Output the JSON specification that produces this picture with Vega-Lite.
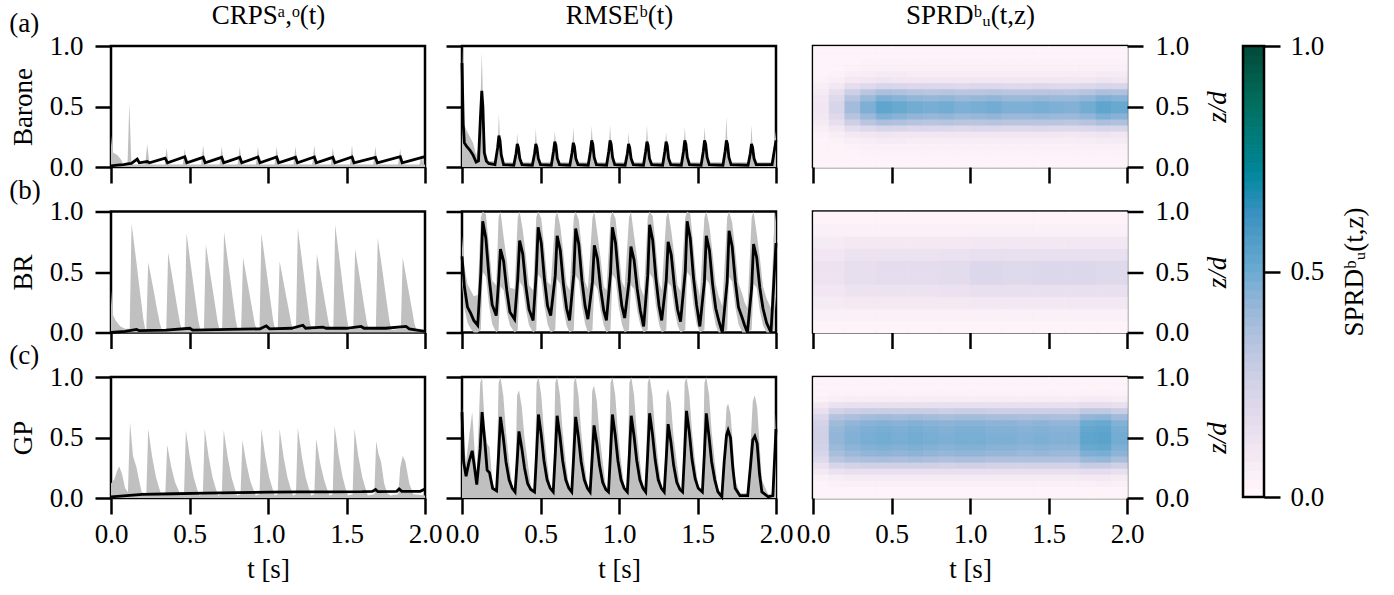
{
"$schema":"https://vega.github.io/schema/vega-lite/v6.json",
"padding":{"left":8,"top":0,"right":5,"bottom":5},
"background":"white",
"bounds":"flush",
"columns":4,
"spacing":{"row":44.5,"column":37},
"datasets":{
"A1":[{"t":0,"hi":0.26,"m":0.01},{"t":0.01,"hi":0.12},{"t":0.04,"hi":0.1,"m":0.015},{"t":0.065,"hi":0.06},{"t":0.08,"hi":0.015,"m":0.02},{"t":0.105,"hi":0.02,"m":0.025},{"t":0.117,"hi":0.53},{"t":0.13,"hi":0.02,"m":0.03},{"t":0.167,"m":0.065},{"t":0.18,"m":0.035},{"t":0.218,"hi":0.02},{"t":0.231,"hi":0.19,"m":0.045},{"t":0.245,"hi":0.02,"m":0.035},{"t":0.342,"hi":0.02},{"t":0.345,"m":0.073},{"t":0.354,"hi":0.16},{"t":0.36,"m":0.035},{"t":0.367,"hi":0.02},
{"t":0.457,"hi":0.02},{"t":0.47,"hi":0.15,"m":0.085},{"t":0.483,"hi":0.02,"m":0.035},
{"t":0.574,"hi":0.02},{"t":0.587,"hi":0.18,"m":0.08},{"t":0.6,"hi":0.02,"m":0.035},
{"t":0.692,"hi":0.02},{"t":0.705,"hi":0.17,"m":0.08},{"t":0.718,"hi":0.02,"m":0.035},
{"t":0.807,"hi":0.02},{"t":0.82,"hi":0.17,"m":0.08},{"t":0.833,"hi":0.02,"m":0.035},
{"t":0.923,"hi":0.02},{"t":0.936,"hi":0.17,"m":0.083},{"t":0.949,"hi":0.02,"m":0.035},
{"t":1.042,"hi":0.02},{"t":1.055,"hi":0.17,"m":0.083},{"t":1.068,"hi":0.02,"m":0.035},
{"t":1.162,"hi":0.02},{"t":1.175,"hi":0.17,"m":0.08},{"t":1.188,"hi":0.02,"m":0.035},
{"t":1.282,"hi":0.02},{"t":1.295,"hi":0.18,"m":0.083},{"t":1.308,"hi":0.02,"m":0.035},
{"t":1.4,"hi":0.02},{"t":1.413,"hi":0.16,"m":0.08},{"t":1.426,"hi":0.02,"m":0.035},
{"t":1.522,"hi":0.02},{"t":1.535,"hi":0.18,"m":0.083},{"t":1.548,"hi":0.02,"m":0.035},
{"t":1.671,"hi":0.02},{"t":1.684,"hi":0.17,"m":0.08},{"t":1.697,"hi":0.02,"m":0.035},
{"t":1.829,"hi":0.02},{"t":1.842,"hi":0.15,"m":0.085},{"t":1.855,"hi":0.02,"m":0.035},
{"t":1.965,"hi":0.02},{"t":1.978,"hi":0.1},{"t":1.99,"hi":0.02},{"t":2,"hi":0.02,"m":0.085}],
"A2":[{"t":0,"hi":1,"m":0.86},{"t":0.008,"hi":0.5,"m":0.35},{"t":0.015,"hi":0.35,"m":0.2},{"t":0.03,"hi":0.3,"m":0.17},{"t":0.05,"hi":0.25,"m":0.14},{"t":0.07,"hi":0.2,"m":0.1},{"t":0.09,"hi":0.1,"m":0.04},{"t":0.105,"hi":0.15,"m":0.05},{"t":0.117,"hi":0.5,"m":0.4},{"t":0.126,"hi":0.95,"m":0.63},{"t":0.133,"hi":0.6,"m":0.5},{"t":0.142,"hi":0.3,"m":0.12},{"t":0.155,"hi":0.1,"m":0.05},{"t":0.17,"hi":0.05,"m":0.03},
{"t":0.21,"hi":0.05,"m":0.02},{"t":0.227,"hi":0.17,"m":0.16},{"t":0.235,"hi":0.44,"m":0.26},{"t":0.242,"hi":0.22,"m":0.22},{"t":0.25,"hi":0.12,"m":0.1},{"t":0.265,"hi":0.04,"m":0.02},
{"t":0.33,"hi":0.04,"m":0.015},{"t":0.344,"hi":0.12,"m":0.11},{"t":0.352,"hi":0.28,"m":0.19},{"t":0.359,"hi":0.16,"m":0.16},{"t":0.368,"hi":0.08,"m":0.07},{"t":0.382,"hi":0.04,"m":0.02},
{"t":0.448,"hi":0.04,"m":0.015},{"t":0.462,"hi":0.12,"m":0.11},{"t":0.47,"hi":0.32,"m":0.19},{"t":0.477,"hi":0.16,"m":0.16},{"t":0.486,"hi":0.08,"m":0.07},{"t":0.5,"hi":0.04,"m":0.02},
{"t":0.569,"hi":0.04,"m":0.015},{"t":0.583,"hi":0.14,"m":0.13},{"t":0.591,"hi":0.3,"m":0.21},{"t":0.598,"hi":0.18,"m":0.18},{"t":0.607,"hi":0.08,"m":0.07},{"t":0.621,"hi":0.04,"m":0.02},
{"t":0.687,"hi":0.04,"m":0.015},{"t":0.701,"hi":0.13,"m":0.12},{"t":0.709,"hi":0.33,"m":0.2},{"t":0.716,"hi":0.17,"m":0.17},{"t":0.725,"hi":0.08,"m":0.07},{"t":0.739,"hi":0.04,"m":0.02},
{"t":0.804,"hi":0.04,"m":0.015},{"t":0.818,"hi":0.14,"m":0.13},{"t":0.826,"hi":0.34,"m":0.22},{"t":0.833,"hi":0.19,"m":0.19},{"t":0.842,"hi":0.09,"m":0.08},{"t":0.856,"hi":0.04,"m":0.02},
{"t":0.921,"hi":0.04,"m":0.015},{"t":0.935,"hi":0.14,"m":0.13},{"t":0.943,"hi":0.35,"m":0.22},{"t":0.95,"hi":0.19,"m":0.19},{"t":0.959,"hi":0.09,"m":0.08},{"t":0.973,"hi":0.04,"m":0.02},
{"t":1.039,"hi":0.04,"m":0.015},{"t":1.053,"hi":0.12,"m":0.11},{"t":1.061,"hi":0.29,"m":0.19},{"t":1.068,"hi":0.16,"m":0.16},{"t":1.077,"hi":0.08,"m":0.07},{"t":1.091,"hi":0.04,"m":0.02},
{"t":1.156,"hi":0.04,"m":0.015},{"t":1.17,"hi":0.14,"m":0.13},{"t":1.178,"hi":0.35,"m":0.21},{"t":1.185,"hi":0.18,"m":0.18},{"t":1.194,"hi":0.08,"m":0.07},{"t":1.208,"hi":0.04,"m":0.02},
{"t":1.278,"hi":0.04,"m":0.015},{"t":1.292,"hi":0.14,"m":0.13},{"t":1.3,"hi":0.29,"m":0.21},{"t":1.307,"hi":0.18,"m":0.18},{"t":1.316,"hi":0.08,"m":0.07},{"t":1.33,"hi":0.04,"m":0.02},
{"t":1.397,"hi":0.04,"m":0.015},{"t":1.411,"hi":0.14,"m":0.13},{"t":1.419,"hi":0.33,"m":0.22},{"t":1.426,"hi":0.19,"m":0.19},{"t":1.435,"hi":0.09,"m":0.08},{"t":1.449,"hi":0.04,"m":0.02},
{"t":1.523,"hi":0.04,"m":0.015},{"t":1.537,"hi":0.14,"m":0.13},{"t":1.545,"hi":0.33,"m":0.22},{"t":1.552,"hi":0.19,"m":0.19},{"t":1.561,"hi":0.09,"m":0.08},{"t":1.575,"hi":0.04,"m":0.02},
{"t":1.662,"hi":0.04,"m":0.015},{"t":1.676,"hi":0.14,"m":0.13},{"t":1.684,"hi":0.42,"m":0.22},{"t":1.691,"hi":0.19,"m":0.19},{"t":1.7,"hi":0.09,"m":0.08},{"t":1.714,"hi":0.04,"m":0.02},
{"t":1.822,"hi":0.04,"m":0.015},{"t":1.836,"hi":0.12,"m":0.11},{"t":1.844,"hi":0.35,"m":0.19},{"t":1.851,"hi":0.16,"m":0.16},{"t":1.86,"hi":0.08,"m":0.07},{"t":1.874,"hi":0.04,"m":0.02},
{"t":1.975,"hi":0.04,"m":0.02},{"t":2,"hi":0.3,"m":0.22}],
"B1":[{"t":0,"hi":0.35,"m":0},{"t":0.01,"hi":0.15},{"t":0.03,"hi":0.1},{"t":0.06,"hi":0.05},{"t":0.09,"hi":0.03,"m":0.01},{"t":0.119,"hi":0.03},
{"t":0.131,"hi":0.9},{"t":0.161,"hi":0.59},{"t":0.186,"hi":0.32},{"t":0.206,"hi":0.11},{"t":0.219,"hi":0.02},
{"t":0.225,"hi":0.03},{"t":0.237,"hi":0.58},{"t":0.267,"hi":0.38},{"t":0.292,"hi":0.2},{"t":0.312,"hi":0.07},{"t":0.325,"hi":0.02},
{"t":0.352,"hi":0.03},{"t":0.364,"hi":0.66},{"t":0.394,"hi":0.43},{"t":0.419,"hi":0.23},{"t":0.439,"hi":0.08},{"t":0.452,"hi":0.02},
{"t":0.469,"hi":0.03},{"t":0.481,"hi":0.82},{"t":0.511,"hi":0.53},{"t":0.536,"hi":0.29},{"t":0.556,"hi":0.1},{"t":0.569,"hi":0.02},
{"t":0.592,"hi":0.03},{"t":0.604,"hi":0.73},{"t":0.634,"hi":0.47},{"t":0.659,"hi":0.26},{"t":0.679,"hi":0.09},{"t":0.692,"hi":0.02},
{"t":0.708,"hi":0.03},{"t":0.72,"hi":0.83},{"t":0.75,"hi":0.54},{"t":0.775,"hi":0.29},{"t":0.795,"hi":0.1},{"t":0.808,"hi":0.02},
{"t":0.829,"hi":0.03},{"t":0.841,"hi":0.62},{"t":0.871,"hi":0.4},{"t":0.896,"hi":0.22},{"t":0.916,"hi":0.07},{"t":0.929,"hi":0.02},
{"t":0.946,"hi":0.03},{"t":0.958,"hi":0.82},{"t":0.988,"hi":0.53},{"t":1.013,"hi":0.29},{"t":1.033,"hi":0.1},{"t":1.046,"hi":0.02},
{"t":1.062,"hi":0.03},{"t":1.074,"hi":0.59},{"t":1.104,"hi":0.38},{"t":1.129,"hi":0.21},{"t":1.149,"hi":0.07},{"t":1.162,"hi":0.02},
{"t":1.178,"hi":0.03},{"t":1.19,"hi":0.86},{"t":1.22,"hi":0.56},{"t":1.245,"hi":0.3},{"t":1.265,"hi":0.1},{"t":1.278,"hi":0.02},
{"t":1.299,"hi":0.03},{"t":1.311,"hi":0.65},{"t":1.341,"hi":0.42},{"t":1.366,"hi":0.23},{"t":1.386,"hi":0.08},{"t":1.399,"hi":0.02},
{"t":1.416,"hi":0.03},{"t":1.428,"hi":0.89},{"t":1.458,"hi":0.58},{"t":1.483,"hi":0.31},{"t":1.503,"hi":0.11},{"t":1.516,"hi":0.02},
{"t":1.543,"hi":0.03},{"t":1.555,"hi":0.69},{"t":1.585,"hi":0.45},{"t":1.61,"hi":0.24},{"t":1.63,"hi":0.08},{"t":1.643,"hi":0.02},
{"t":1.687,"hi":0.03},{"t":1.699,"hi":0.78},{"t":1.729,"hi":0.51},{"t":1.754,"hi":0.27},{"t":1.774,"hi":0.09},{"t":1.787,"hi":0.02},
{"t":1.846,"hi":0.03},{"t":1.858,"hi":0.62},{"t":1.888,"hi":0.4},{"t":1.913,"hi":0.22},{"t":1.933,"hi":0.07},{"t":1.946,"hi":0.02},
{"t":2,"hi":0.02,"m":0.01},
{"t":0.163,"m":0.025},{"t":0.18,"m":0.015},{"t":0.35,"m":0.02},{"t":0.502,"m":0.035},{"t":0.52,"m":0.02},{"t":0.75,"m":0.025},{"t":0.95,"m":0.03},{"t":0.989,"m":0.055},{"t":1.01,"m":0.03},{"t":1.15,"m":0.035},{"t":1.222,"m":0.06},{"t":1.24,"m":0.035},{"t":1.35,"m":0.045},{"t":1.37,"m":0.035},{"t":1.5,"m":0.035},{"t":1.593,"m":0.05},{"t":1.612,"m":0.035},{"t":1.75,"m":0.035},{"t":1.879,"m":0.05},{"t":1.9,"m":0.03}],
"B2":[{"t":0,"lo":0.4,"hi":0.8,"m":0.63},{"t":0.015,"lo":0.2,"hi":0.55,"m":0.38},{"t":0.035,"lo":0.08,"hi":0.4,"m":0.21},{"t":0.055,"lo":0.03,"hi":0.35,"m":0.16},{"t":0.075,"lo":0,"hi":0.3,"m":0.1},{"t":0.1,"lo":0,"hi":0.31,"m":0.06},
{"t":0.12,"lo":0.02,"hi":0.95,"m":0.49},{"t":0.132,"lo":0.5,"hi":1,"m":0.92},{"t":0.152,"lo":0.46,"hi":0.98,"m":0.78},{"t":0.172,"lo":0.23,"hi":0.71,"m":0.46},{"t":0.192,"lo":0.07,"hi":0.43,"m":0.23},{"t":0.218,"lo":0,"hi":0.39,"m":0.14},
{"t":0.233,"lo":0.02,"hi":0.95,"m":0.42},{"t":0.245,"lo":0.38,"hi":1,"m":0.69},{"t":0.265,"lo":0.35,"hi":0.79,"m":0.59},{"t":0.285,"lo":0.17,"hi":0.6,"m":0.35},{"t":0.305,"lo":0.06,"hi":0.37,"m":0.17},{"t":0.335,"lo":0,"hi":0.36,"m":0.11},
{"t":0.355,"lo":0.02,"hi":0.95,"m":0.44},{"t":0.367,"lo":0.42,"hi":1,"m":0.76},{"t":0.387,"lo":0.38,"hi":0.85,"m":0.65},{"t":0.407,"lo":0.19,"hi":0.63,"m":0.38},{"t":0.427,"lo":0.06,"hi":0.39,"m":0.19},{"t":0.453,"lo":0,"hi":0.35,"m":0.1},
{"t":0.473,"lo":0.02,"hi":0.95,"m":0.49},{"t":0.485,"lo":0.48,"hi":1,"m":0.87},{"t":0.505,"lo":0.44,"hi":0.94,"m":0.74},{"t":0.525,"lo":0.22,"hi":0.69,"m":0.44},{"t":0.545,"lo":0.07,"hi":0.42,"m":0.22},{"t":0.565,"lo":0,"hi":0.39,"m":0.14},
{"t":0.594,"lo":0.02,"hi":0.95,"m":0.47},{"t":0.606,"lo":0.44,"hi":1,"m":0.8},{"t":0.626,"lo":0.4,"hi":0.88,"m":0.68},{"t":0.646,"lo":0.2,"hi":0.65,"m":0.4},{"t":0.666,"lo":0.06,"hi":0.4,"m":0.2},{"t":0.685,"lo":0,"hi":0.35,"m":0.1},
{"t":0.712,"lo":0.02,"hi":0.95,"m":0.48},{"t":0.724,"lo":0.47,"hi":1,"m":0.86},{"t":0.744,"lo":0.43,"hi":0.93,"m":0.73},{"t":0.764,"lo":0.22,"hi":0.68,"m":0.43},{"t":0.784,"lo":0.07,"hi":0.42,"m":0.22},{"t":0.802,"lo":0,"hi":0.36,"m":0.11},
{"t":0.831,"lo":0.02,"hi":0.95,"m":0.42},{"t":0.843,"lo":0.4,"hi":1,"m":0.72},{"t":0.863,"lo":0.36,"hi":0.81,"m":0.61},{"t":0.883,"lo":0.18,"hi":0.61,"m":0.36},{"t":0.903,"lo":0.06,"hi":0.38,"m":0.18},{"t":0.92,"lo":0,"hi":0.35,"m":0.1},
{"t":0.946,"lo":0.02,"hi":0.95,"m":0.49},{"t":0.958,"lo":0.48,"hi":1,"m":0.87},{"t":0.978,"lo":0.44,"hi":0.94,"m":0.74},{"t":0.998,"lo":0.22,"hi":0.69,"m":0.44},{"t":1.018,"lo":0.07,"hi":0.42,"m":0.22},{"t":1.036,"lo":0,"hi":0.37,"m":0.12},
{"t":1.064,"lo":0.02,"hi":0.95,"m":0.42},{"t":1.076,"lo":0.39,"hi":1,"m":0.71},{"t":1.096,"lo":0.36,"hi":0.8,"m":0.6},{"t":1.116,"lo":0.18,"hi":0.61,"m":0.36},{"t":1.136,"lo":0.06,"hi":0.38,"m":0.18},{"t":1.157,"lo":0,"hi":0.3,"m":0.05},
{"t":1.183,"lo":0.02,"hi":0.95,"m":0.47},{"t":1.195,"lo":0.49,"hi":1,"m":0.89},{"t":1.215,"lo":0.45,"hi":0.96,"m":0.76},{"t":1.235,"lo":0.22,"hi":0.7,"m":0.45},{"t":1.255,"lo":0.07,"hi":0.42,"m":0.22},{"t":1.272,"lo":0,"hi":0.35,"m":0.1},
{"t":1.301,"lo":0.02,"hi":0.95,"m":0.43},{"t":1.313,"lo":0.41,"hi":1,"m":0.75},{"t":1.333,"lo":0.38,"hi":0.84,"m":0.64},{"t":1.353,"lo":0.19,"hi":0.63,"m":0.38},{"t":1.373,"lo":0.06,"hi":0.39,"m":0.19},{"t":1.392,"lo":0,"hi":0.34,"m":0.09},
{"t":1.422,"lo":0.02,"hi":0.95,"m":0.5},{"t":1.434,"lo":0.5,"hi":1,"m":0.92},{"t":1.454,"lo":0.46,"hi":0.98,"m":0.78},{"t":1.474,"lo":0.23,"hi":0.71,"m":0.46},{"t":1.494,"lo":0.07,"hi":0.43,"m":0.23},{"t":1.515,"lo":0,"hi":0.3,"m":0.05},
{"t":1.544,"lo":0.02,"hi":0.95,"m":0.42},{"t":1.556,"lo":0.44,"hi":1,"m":0.8},{"t":1.576,"lo":0.4,"hi":0.88,"m":0.68},{"t":1.596,"lo":0.2,"hi":0.65,"m":0.4},{"t":1.616,"lo":0.06,"hi":0.4,"m":0.2},{"t":1.635,"lo":0,"hi":0.3,"m":0.1},{"t":1.658,"lo":0,"hi":0.22,"m":0},
{"t":1.689,"lo":0.02,"hi":0.95,"m":0.42},{"t":1.701,"lo":0.46,"hi":1,"m":0.84},{"t":1.721,"lo":0.42,"hi":0.91,"m":0.71},{"t":1.741,"lo":0.21,"hi":0.67,"m":0.42},{"t":1.761,"lo":0.07,"hi":0.41,"m":0.21},{"t":1.785,"lo":0,"hi":0.32,"m":0.12},{"t":1.8,"lo":0,"hi":0.25,"m":0.06},{"t":1.818,"lo":0,"hi":0.2,"m":0},
{"t":1.845,"lo":0.02,"hi":0.95,"m":0.37},{"t":1.857,"lo":0.4,"hi":1,"m":0.73},{"t":1.877,"lo":0.37,"hi":0.82,"m":0.62},{"t":1.897,"lo":0.18,"hi":0.62,"m":0.37},{"t":1.917,"lo":0.06,"hi":0.38,"m":0.2},{"t":1.94,"lo":0,"hi":0.28,"m":0.08},{"t":1.968,"lo":0,"hi":0.2,"m":0},
{"t":1.985,"lo":0.02,"hi":0.8,"m":0.39},{"t":2,"lo":0.3,"hi":1,"m":0.74}],
"C1":[{"t":0,"hi":0.12,"m":0.01},{"t":0.02,"hi":0.15},{"t":0.04,"hi":0.23},{"t":0.053,"hi":0.26},{"t":0.07,"hi":0.2},{"t":0.09,"hi":0.08},{"t":0.1,"m":0.02},{"t":0.108,"hi":0.05},{"t":0.121,"hi":0.63},{"t":0.14,"hi":0.35},{"t":0.163,"hi":0.25},{"t":0.175,"hi":0.17},{"t":0.195,"hi":0.05},{"t":0.2,"m":0.03},{"t":0.225,"hi":0.03},
{"t":0.237,"hi":0.57},{"t":0.262,"hi":0.34},{"t":0.287,"hi":0.17},{"t":0.307,"hi":0.08},{"t":0.322,"hi":0.02},
{"t":0.346,"hi":0.03},{"t":0.358,"hi":0.44},{"t":0.383,"hi":0.26},{"t":0.408,"hi":0.13},{"t":0.428,"hi":0.07},{"t":0.443,"hi":0.02},
{"t":0.465,"hi":0.03},{"t":0.477,"hi":0.56},{"t":0.502,"hi":0.34},{"t":0.527,"hi":0.17},{"t":0.547,"hi":0.08},{"t":0.562,"hi":0.02},
{"t":0.585,"hi":0.03},{"t":0.597,"hi":0.57},{"t":0.622,"hi":0.34},{"t":0.647,"hi":0.17},{"t":0.667,"hi":0.08},{"t":0.682,"hi":0.02},
{"t":0.706,"hi":0.03},{"t":0.718,"hi":0.56},{"t":0.743,"hi":0.34},{"t":0.768,"hi":0.17},{"t":0.788,"hi":0.08},{"t":0.803,"hi":0.02},
{"t":0.825,"hi":0.03},{"t":0.837,"hi":0.48},{"t":0.862,"hi":0.29},{"t":0.887,"hi":0.14},{"t":0.907,"hi":0.07},{"t":0.922,"hi":0.02},
{"t":0.946,"hi":0.03},{"t":0.958,"hi":0.57},{"t":0.983,"hi":0.34},{"t":1.008,"hi":0.17},{"t":1.028,"hi":0.08},{"t":1.043,"hi":0.02},
{"t":1.062,"hi":0.03},{"t":1.074,"hi":0.57},{"t":1.099,"hi":0.34},{"t":1.124,"hi":0.17},{"t":1.144,"hi":0.08},{"t":1.159,"hi":0.02},
{"t":1.178,"hi":0.03},{"t":1.19,"hi":0.58},{"t":1.215,"hi":0.35},{"t":1.24,"hi":0.17},{"t":1.26,"hi":0.08},{"t":1.275,"hi":0.02},
{"t":1.295,"hi":0.03},{"t":1.307,"hi":0.49},{"t":1.332,"hi":0.29},{"t":1.357,"hi":0.15},{"t":1.377,"hi":0.07},{"t":1.392,"hi":0.02},
{"t":1.412,"hi":0.03},{"t":1.424,"hi":0.6},{"t":1.449,"hi":0.36},{"t":1.474,"hi":0.18},{"t":1.494,"hi":0.08},{"t":1.509,"hi":0.02},
{"t":1.539,"hi":0.03},{"t":1.551,"hi":0.57},{"t":1.576,"hi":0.34},{"t":1.601,"hi":0.17},{"t":1.621,"hi":0.08},{"t":1.636,"hi":0.02},
{"t":1.677,"hi":0.03},{"t":1.689,"hi":0.47},{"t":1.705,"hi":0.36},{"t":1.72,"hi":0.3},{"t":1.74,"hi":0.12},{"t":1.76,"hi":0.04},{"t":1.78,"hi":0.02},
{"t":1.83,"hi":0.03},{"t":1.842,"hi":0.25},{"t":1.858,"hi":0.35},{"t":1.875,"hi":0.3},{"t":1.9,"hi":0.12},{"t":1.925,"hi":0.03},{"t":2,"hi":0.02,"m":0.075},
{"t":0.4,"m":0.035},{"t":0.6,"m":0.04},{"t":0.8,"m":0.045},{"t":1,"m":0.048},{"t":1.2,"m":0.05},{"t":1.4,"m":0.05},{"t":1.6,"m":0.052},{"t":1.665,"m":0.055},{"t":1.685,"m":0.07},{"t":1.7,"m":0.052},{"t":1.82,"m":0.055},{"t":1.835,"m":0.075},{"t":1.852,"m":0.055},{"t":1.97,"m":0.055}],
"C2":[{"t":0,"hi":0.75,"m":0.71},{"t":0.01,"hi":0.45,"m":0.3},{"t":0.026,"hi":0.3,"m":0.18},{"t":0.045,"hi":0.5,"m":0.3},{"t":0.065,"hi":0.71,"m":0.39},{"t":0.08,"hi":0.4,"m":0.25},{"t":0.094,"hi":0.2,"m":0.11},{"t":0.116,"hi":0.95,"m":0.41},{"t":0.128,"hi":1,"m":0.71},{"t":0.145,"hi":0.6,"m":0.47},{"t":0.16,"hi":0.45,"m":0.23},{"t":0.175,"hi":0.42,"m":0.21},{"t":0.195,"hi":0.12,"m":0.08},{"t":0.22,"hi":0.06,"m":0.06},
{"t":0.233,"hi":0.95,"m":0.36},{"t":0.245,"hi":1,"m":0.67},{"t":0.263,"hi":0.85,"m":0.5},{"t":0.28,"hi":0.55,"m":0.3},{"t":0.3,"hi":0.3,"m":0.15},{"t":0.32,"hi":0.1,"m":0.08},{"t":0.338,"hi":0.06,"m":0.05},
{"t":0.351,"hi":0.85,"m":0.3},{"t":0.363,"hi":0.89,"m":0.55},{"t":0.381,"hi":0.75,"m":0.41},{"t":0.398,"hi":0.5,"m":0.25},{"t":0.418,"hi":0.3,"m":0.12},{"t":0.438,"hi":0.1,"m":0.07},{"t":0.462,"hi":0.06,"m":0.05},
{"t":0.475,"hi":0.95,"m":0.37},{"t":0.487,"hi":1,"m":0.69},{"t":0.505,"hi":0.85,"m":0.52},{"t":0.522,"hi":0.55,"m":0.31},{"t":0.542,"hi":0.3,"m":0.15},{"t":0.562,"hi":0.1,"m":0.08},{"t":0.581,"hi":0.06,"m":0.05},
{"t":0.594,"hi":0.95,"m":0.36},{"t":0.606,"hi":1,"m":0.68},{"t":0.624,"hi":0.85,"m":0.51},{"t":0.641,"hi":0.55,"m":0.31},{"t":0.661,"hi":0.3,"m":0.15},{"t":0.681,"hi":0.1,"m":0.08},{"t":0.699,"hi":0.06,"m":0.05},
{"t":0.712,"hi":0.95,"m":0.36},{"t":0.724,"hi":1,"m":0.67},{"t":0.742,"hi":0.85,"m":0.5},{"t":0.759,"hi":0.55,"m":0.3},{"t":0.779,"hi":0.3,"m":0.15},{"t":0.799,"hi":0.1,"m":0.08},{"t":0.816,"hi":0.06,"m":0.05},
{"t":0.829,"hi":0.88,"m":0.33},{"t":0.841,"hi":0.93,"m":0.6},{"t":0.859,"hi":0.8,"m":0.45},{"t":0.876,"hi":0.52,"m":0.27},{"t":0.896,"hi":0.3,"m":0.13},{"t":0.916,"hi":0.1,"m":0.07},{"t":0.933,"hi":0.06,"m":0.05},
{"t":0.946,"hi":0.95,"m":0.37},{"t":0.958,"hi":1,"m":0.69},{"t":0.976,"hi":0.85,"m":0.52},{"t":0.993,"hi":0.55,"m":0.31},{"t":1.013,"hi":0.3,"m":0.15},{"t":1.033,"hi":0.1,"m":0.08},{"t":1.053,"hi":0.06,"m":0.05},
{"t":1.066,"hi":0.95,"m":0.36},{"t":1.078,"hi":1,"m":0.68},{"t":1.096,"hi":0.85,"m":0.51},{"t":1.113,"hi":0.55,"m":0.31},{"t":1.133,"hi":0.3,"m":0.15},{"t":1.153,"hi":0.1,"m":0.08},{"t":1.17,"hi":0.06,"m":0.05},
{"t":1.183,"hi":0.95,"m":0.37},{"t":1.195,"hi":1,"m":0.7},{"t":1.213,"hi":0.85,"m":0.53},{"t":1.23,"hi":0.55,"m":0.32},{"t":1.25,"hi":0.3,"m":0.15},{"t":1.27,"hi":0.1,"m":0.08},{"t":1.288,"hi":0.06,"m":0.05},
{"t":1.301,"hi":0.85,"m":0.33},{"t":1.313,"hi":0.9,"m":0.61},{"t":1.331,"hi":0.78,"m":0.46},{"t":1.348,"hi":0.5,"m":0.27},{"t":1.368,"hi":0.3,"m":0.13},{"t":1.388,"hi":0.1,"m":0.07},{"t":1.405,"hi":0.06,"m":0.05},
{"t":1.418,"hi":0.95,"m":0.38},{"t":1.43,"hi":1,"m":0.72},{"t":1.448,"hi":0.85,"m":0.54},{"t":1.465,"hi":0.55,"m":0.32},{"t":1.485,"hi":0.3,"m":0.16},{"t":1.505,"hi":0.1,"m":0.08},{"t":1.531,"hi":0.06,"m":0.05},
{"t":1.544,"hi":0.95,"m":0.37},{"t":1.556,"hi":1,"m":0.7},{"t":1.574,"hi":0.85,"m":0.5},{"t":1.59,"hi":0.55,"m":0.3},{"t":1.61,"hi":0.3,"m":0.15},{"t":1.63,"hi":0.08,"m":0.05},{"t":1.655,"hi":0.03,"m":0.01},
{"t":1.67,"hi":0.4,"m":0.3},{"t":1.685,"hi":0.75,"m":0.52},{"t":1.695,"hi":0.78,"m":0.56},{"t":1.71,"hi":0.7,"m":0.5},{"t":1.725,"hi":0.45,"m":0.25},{"t":1.74,"hi":0.15,"m":0.08},{"t":1.77,"hi":0.04,"m":0.02},{"t":1.82,"hi":0.04,"m":0.02},
{"t":1.84,"hi":0.5,"m":0.3},{"t":1.852,"hi":0.8,"m":0.48},{"t":1.865,"hi":0.85,"m":0.51},{"t":1.88,"hi":0.75,"m":0.45},{"t":1.895,"hi":0.45,"m":0.2},{"t":1.91,"hi":0.15,"m":0.05},{"t":1.95,"hi":0.03,"m":0.01},{"t":1.98,"hi":0.04,"m":0.02},{"t":2,"hi":0.7,"m":0.57}],
"H1":[
{"t":0.05,"z":0.025,"v":0.02},{"t":0.05,"z":0.075,"v":0.02},{"t":0.05,"z":0.125,"v":0.02},{"t":0.05,"z":0.175,"v":0.02},{"t":0.05,"z":0.225,"v":0.02},{"t":0.05,"z":0.275,"v":0.03},{"t":0.05,"z":0.325,"v":0.05},{"t":0.05,"z":0.375,"v":0.07},{"t":0.05,"z":0.425,"v":0.09},{"t":0.05,"z":0.475,"v":0.1},{"t":0.05,"z":0.525,"v":0.1},{"t":0.05,"z":0.575,"v":0.09},{"t":0.05,"z":0.625,"v":0.07},{"t":0.05,"z":0.675,"v":0.05},{"t":0.05,"z":0.725,"v":0.03},{"t":0.05,"z":0.775,"v":0.02},{"t":0.05,"z":0.825,"v":0.02},{"t":0.05,"z":0.875,"v":0.02},{"t":0.05,"z":0.925,"v":0.02},{"t":0.05,"z":0.975,"v":0.02},
{"t":0.15,"z":0.025,"v":0.02},{"t":0.15,"z":0.075,"v":0.02},{"t":0.15,"z":0.125,"v":0.02},{"t":0.15,"z":0.175,"v":0.02},{"t":0.15,"z":0.225,"v":0.03},{"t":0.15,"z":0.275,"v":0.05},{"t":0.15,"z":0.325,"v":0.09},{"t":0.15,"z":0.375,"v":0.15},{"t":0.15,"z":0.425,"v":0.19},{"t":0.15,"z":0.475,"v":0.22},{"t":0.15,"z":0.525,"v":0.22},{"t":0.15,"z":0.575,"v":0.19},{"t":0.15,"z":0.625,"v":0.15},{"t":0.15,"z":0.675,"v":0.09},{"t":0.15,"z":0.725,"v":0.05},{"t":0.15,"z":0.775,"v":0.03},{"t":0.15,"z":0.825,"v":0.02},{"t":0.15,"z":0.875,"v":0.02},{"t":0.15,"z":0.925,"v":0.02},{"t":0.15,"z":0.975,"v":0.02},
{"t":0.25,"z":0.025,"v":0.02},{"t":0.25,"z":0.075,"v":0.02},{"t":0.25,"z":0.125,"v":0.02},{"t":0.25,"z":0.175,"v":0.03},{"t":0.25,"z":0.225,"v":0.05},{"t":0.25,"z":0.275,"v":0.08},{"t":0.25,"z":0.325,"v":0.16},{"t":0.25,"z":0.375,"v":0.26},{"t":0.25,"z":0.425,"v":0.33},{"t":0.25,"z":0.475,"v":0.38},{"t":0.25,"z":0.525,"v":0.38},{"t":0.25,"z":0.575,"v":0.33},{"t":0.25,"z":0.625,"v":0.26},{"t":0.25,"z":0.675,"v":0.16},{"t":0.25,"z":0.725,"v":0.08},{"t":0.25,"z":0.775,"v":0.05},{"t":0.25,"z":0.825,"v":0.03},{"t":0.25,"z":0.875,"v":0.02},{"t":0.25,"z":0.925,"v":0.02},{"t":0.25,"z":0.975,"v":0.02},
{"t":0.35,"z":0.025,"v":0.02},{"t":0.35,"z":0.075,"v":0.02},{"t":0.35,"z":0.125,"v":0.03},{"t":0.35,"z":0.175,"v":0.04},{"t":0.35,"z":0.225,"v":0.06},{"t":0.35,"z":0.275,"v":0.1},{"t":0.35,"z":0.325,"v":0.19},{"t":0.35,"z":0.375,"v":0.32},{"t":0.35,"z":0.425,"v":0.4},{"t":0.35,"z":0.475,"v":0.46},{"t":0.35,"z":0.525,"v":0.46},{"t":0.35,"z":0.575,"v":0.4},{"t":0.35,"z":0.625,"v":0.32},{"t":0.35,"z":0.675,"v":0.19},{"t":0.35,"z":0.725,"v":0.1},{"t":0.35,"z":0.775,"v":0.06},{"t":0.35,"z":0.825,"v":0.04},{"t":0.35,"z":0.875,"v":0.03},{"t":0.35,"z":0.925,"v":0.02},{"t":0.35,"z":0.975,"v":0.02},
{"t":0.45,"z":0.025,"v":0.02},{"t":0.45,"z":0.075,"v":0.02},{"t":0.45,"z":0.125,"v":0.03},{"t":0.45,"z":0.175,"v":0.04},{"t":0.45,"z":0.225,"v":0.07},{"t":0.45,"z":0.275,"v":0.11},{"t":0.45,"z":0.325,"v":0.22},{"t":0.45,"z":0.375,"v":0.36},{"t":0.45,"z":0.425,"v":0.46},{"t":0.45,"z":0.475,"v":0.52},{"t":0.45,"z":0.525,"v":0.52},{"t":0.45,"z":0.575,"v":0.46},{"t":0.45,"z":0.625,"v":0.36},{"t":0.45,"z":0.675,"v":0.22},{"t":0.45,"z":0.725,"v":0.11},{"t":0.45,"z":0.775,"v":0.07},{"t":0.45,"z":0.825,"v":0.04},{"t":0.45,"z":0.875,"v":0.03},{"t":0.45,"z":0.925,"v":0.02},{"t":0.45,"z":0.975,"v":0.02},
{"t":0.55,"z":0.025,"v":0.02},{"t":0.55,"z":0.075,"v":0.02},{"t":0.55,"z":0.125,"v":0.03},{"t":0.55,"z":0.175,"v":0.04},{"t":0.55,"z":0.225,"v":0.07},{"t":0.55,"z":0.275,"v":0.1},{"t":0.55,"z":0.325,"v":0.21},{"t":0.55,"z":0.375,"v":0.35},{"t":0.55,"z":0.425,"v":0.44},{"t":0.55,"z":0.475,"v":0.5},{"t":0.55,"z":0.525,"v":0.5},{"t":0.55,"z":0.575,"v":0.44},{"t":0.55,"z":0.625,"v":0.35},{"t":0.55,"z":0.675,"v":0.21},{"t":0.55,"z":0.725,"v":0.1},{"t":0.55,"z":0.775,"v":0.07},{"t":0.55,"z":0.825,"v":0.04},{"t":0.55,"z":0.875,"v":0.03},{"t":0.55,"z":0.925,"v":0.02},{"t":0.55,"z":0.975,"v":0.02},
{"t":0.65,"z":0.025,"v":0.02},{"t":0.65,"z":0.075,"v":0.02},{"t":0.65,"z":0.125,"v":0.03},{"t":0.65,"z":0.175,"v":0.04},{"t":0.65,"z":0.225,"v":0.06},{"t":0.65,"z":0.275,"v":0.1},{"t":0.65,"z":0.325,"v":0.2},{"t":0.65,"z":0.375,"v":0.33},{"t":0.65,"z":0.425,"v":0.42},{"t":0.65,"z":0.475,"v":0.48},{"t":0.65,"z":0.525,"v":0.48},{"t":0.65,"z":0.575,"v":0.42},{"t":0.65,"z":0.625,"v":0.33},{"t":0.65,"z":0.675,"v":0.2},{"t":0.65,"z":0.725,"v":0.1},{"t":0.65,"z":0.775,"v":0.06},{"t":0.65,"z":0.825,"v":0.04},{"t":0.65,"z":0.875,"v":0.03},{"t":0.65,"z":0.925,"v":0.02},{"t":0.65,"z":0.975,"v":0.02},
{"t":0.75,"z":0.025,"v":0.02},{"t":0.75,"z":0.075,"v":0.02},{"t":0.75,"z":0.125,"v":0.03},{"t":0.75,"z":0.175,"v":0.04},{"t":0.75,"z":0.225,"v":0.06},{"t":0.75,"z":0.275,"v":0.1},{"t":0.75,"z":0.325,"v":0.2},{"t":0.75,"z":0.375,"v":0.32},{"t":0.75,"z":0.425,"v":0.41},{"t":0.75,"z":0.475,"v":0.47},{"t":0.75,"z":0.525,"v":0.47},{"t":0.75,"z":0.575,"v":0.41},{"t":0.75,"z":0.625,"v":0.32},{"t":0.75,"z":0.675,"v":0.2},{"t":0.75,"z":0.725,"v":0.1},{"t":0.75,"z":0.775,"v":0.06},{"t":0.75,"z":0.825,"v":0.04},{"t":0.75,"z":0.875,"v":0.03},{"t":0.75,"z":0.925,"v":0.02},{"t":0.75,"z":0.975,"v":0.02},
{"t":0.85,"z":0.025,"v":0.02},{"t":0.85,"z":0.075,"v":0.02},{"t":0.85,"z":0.125,"v":0.03},{"t":0.85,"z":0.175,"v":0.04},{"t":0.85,"z":0.225,"v":0.06},{"t":0.85,"z":0.275,"v":0.1},{"t":0.85,"z":0.325,"v":0.2},{"t":0.85,"z":0.375,"v":0.33},{"t":0.85,"z":0.425,"v":0.42},{"t":0.85,"z":0.475,"v":0.48},{"t":0.85,"z":0.525,"v":0.48},{"t":0.85,"z":0.575,"v":0.42},{"t":0.85,"z":0.625,"v":0.33},{"t":0.85,"z":0.675,"v":0.2},{"t":0.85,"z":0.725,"v":0.1},{"t":0.85,"z":0.775,"v":0.06},{"t":0.85,"z":0.825,"v":0.04},{"t":0.85,"z":0.875,"v":0.03},{"t":0.85,"z":0.925,"v":0.02},{"t":0.85,"z":0.975,"v":0.02},
{"t":0.95,"z":0.025,"v":0.02},{"t":0.95,"z":0.075,"v":0.02},{"t":0.95,"z":0.125,"v":0.03},{"t":0.95,"z":0.175,"v":0.04},{"t":0.95,"z":0.225,"v":0.06},{"t":0.95,"z":0.275,"v":0.1},{"t":0.95,"z":0.325,"v":0.19},{"t":0.95,"z":0.375,"v":0.32},{"t":0.95,"z":0.425,"v":0.4},{"t":0.95,"z":0.475,"v":0.46},{"t":0.95,"z":0.525,"v":0.46},{"t":0.95,"z":0.575,"v":0.4},{"t":0.95,"z":0.625,"v":0.32},{"t":0.95,"z":0.675,"v":0.19},{"t":0.95,"z":0.725,"v":0.1},{"t":0.95,"z":0.775,"v":0.06},{"t":0.95,"z":0.825,"v":0.04},{"t":0.95,"z":0.875,"v":0.03},{"t":0.95,"z":0.925,"v":0.02},{"t":0.95,"z":0.975,"v":0.02},
{"t":1.05,"z":0.025,"v":0.02},{"t":1.05,"z":0.075,"v":0.02},{"t":1.05,"z":0.125,"v":0.03},{"t":1.05,"z":0.175,"v":0.04},{"t":1.05,"z":0.225,"v":0.06},{"t":1.05,"z":0.275,"v":0.1},{"t":1.05,"z":0.325,"v":0.2},{"t":1.05,"z":0.375,"v":0.32},{"t":1.05,"z":0.425,"v":0.41},{"t":1.05,"z":0.475,"v":0.47},{"t":1.05,"z":0.525,"v":0.47},{"t":1.05,"z":0.575,"v":0.41},{"t":1.05,"z":0.625,"v":0.32},{"t":1.05,"z":0.675,"v":0.2},{"t":1.05,"z":0.725,"v":0.1},{"t":1.05,"z":0.775,"v":0.06},{"t":1.05,"z":0.825,"v":0.04},{"t":1.05,"z":0.875,"v":0.03},{"t":1.05,"z":0.925,"v":0.02},{"t":1.05,"z":0.975,"v":0.02},
{"t":1.15,"z":0.025,"v":0.02},{"t":1.15,"z":0.075,"v":0.02},{"t":1.15,"z":0.125,"v":0.03},{"t":1.15,"z":0.175,"v":0.04},{"t":1.15,"z":0.225,"v":0.06},{"t":1.15,"z":0.275,"v":0.1},{"t":1.15,"z":0.325,"v":0.2},{"t":1.15,"z":0.375,"v":0.33},{"t":1.15,"z":0.425,"v":0.42},{"t":1.15,"z":0.475,"v":0.48},{"t":1.15,"z":0.525,"v":0.48},{"t":1.15,"z":0.575,"v":0.42},{"t":1.15,"z":0.625,"v":0.33},{"t":1.15,"z":0.675,"v":0.2},{"t":1.15,"z":0.725,"v":0.1},{"t":1.15,"z":0.775,"v":0.06},{"t":1.15,"z":0.825,"v":0.04},{"t":1.15,"z":0.875,"v":0.03},{"t":1.15,"z":0.925,"v":0.02},{"t":1.15,"z":0.975,"v":0.02},
{"t":1.25,"z":0.025,"v":0.02},{"t":1.25,"z":0.075,"v":0.02},{"t":1.25,"z":0.125,"v":0.03},{"t":1.25,"z":0.175,"v":0.04},{"t":1.25,"z":0.225,"v":0.06},{"t":1.25,"z":0.275,"v":0.1},{"t":1.25,"z":0.325,"v":0.19},{"t":1.25,"z":0.375,"v":0.32},{"t":1.25,"z":0.425,"v":0.4},{"t":1.25,"z":0.475,"v":0.46},{"t":1.25,"z":0.525,"v":0.46},{"t":1.25,"z":0.575,"v":0.4},{"t":1.25,"z":0.625,"v":0.32},{"t":1.25,"z":0.675,"v":0.19},{"t":1.25,"z":0.725,"v":0.1},{"t":1.25,"z":0.775,"v":0.06},{"t":1.25,"z":0.825,"v":0.04},{"t":1.25,"z":0.875,"v":0.03},{"t":1.25,"z":0.925,"v":0.02},{"t":1.25,"z":0.975,"v":0.02},
{"t":1.35,"z":0.025,"v":0.02},{"t":1.35,"z":0.075,"v":0.02},{"t":1.35,"z":0.125,"v":0.03},{"t":1.35,"z":0.175,"v":0.04},{"t":1.35,"z":0.225,"v":0.06},{"t":1.35,"z":0.275,"v":0.1},{"t":1.35,"z":0.325,"v":0.19},{"t":1.35,"z":0.375,"v":0.32},{"t":1.35,"z":0.425,"v":0.4},{"t":1.35,"z":0.475,"v":0.46},{"t":1.35,"z":0.525,"v":0.46},{"t":1.35,"z":0.575,"v":0.4},{"t":1.35,"z":0.625,"v":0.32},{"t":1.35,"z":0.675,"v":0.19},{"t":1.35,"z":0.725,"v":0.1},{"t":1.35,"z":0.775,"v":0.06},{"t":1.35,"z":0.825,"v":0.04},{"t":1.35,"z":0.875,"v":0.03},{"t":1.35,"z":0.925,"v":0.02},{"t":1.35,"z":0.975,"v":0.02},
{"t":1.45,"z":0.025,"v":0.02},{"t":1.45,"z":0.075,"v":0.02},{"t":1.45,"z":0.125,"v":0.03},{"t":1.45,"z":0.175,"v":0.04},{"t":1.45,"z":0.225,"v":0.06},{"t":1.45,"z":0.275,"v":0.1},{"t":1.45,"z":0.325,"v":0.2},{"t":1.45,"z":0.375,"v":0.32},{"t":1.45,"z":0.425,"v":0.41},{"t":1.45,"z":0.475,"v":0.47},{"t":1.45,"z":0.525,"v":0.47},{"t":1.45,"z":0.575,"v":0.41},{"t":1.45,"z":0.625,"v":0.32},{"t":1.45,"z":0.675,"v":0.2},{"t":1.45,"z":0.725,"v":0.1},{"t":1.45,"z":0.775,"v":0.06},{"t":1.45,"z":0.825,"v":0.04},{"t":1.45,"z":0.875,"v":0.03},{"t":1.45,"z":0.925,"v":0.02},{"t":1.45,"z":0.975,"v":0.02},
{"t":1.55,"z":0.025,"v":0.02},{"t":1.55,"z":0.075,"v":0.02},{"t":1.55,"z":0.125,"v":0.03},{"t":1.55,"z":0.175,"v":0.04},{"t":1.55,"z":0.225,"v":0.06},{"t":1.55,"z":0.275,"v":0.1},{"t":1.55,"z":0.325,"v":0.19},{"t":1.55,"z":0.375,"v":0.32},{"t":1.55,"z":0.425,"v":0.4},{"t":1.55,"z":0.475,"v":0.46},{"t":1.55,"z":0.525,"v":0.46},{"t":1.55,"z":0.575,"v":0.4},{"t":1.55,"z":0.625,"v":0.32},{"t":1.55,"z":0.675,"v":0.19},{"t":1.55,"z":0.725,"v":0.1},{"t":1.55,"z":0.775,"v":0.06},{"t":1.55,"z":0.825,"v":0.04},{"t":1.55,"z":0.875,"v":0.03},{"t":1.55,"z":0.925,"v":0.02},{"t":1.55,"z":0.975,"v":0.02},
{"t":1.65,"z":0.025,"v":0.02},{"t":1.65,"z":0.075,"v":0.02},{"t":1.65,"z":0.125,"v":0.03},{"t":1.65,"z":0.175,"v":0.04},{"t":1.65,"z":0.225,"v":0.06},{"t":1.65,"z":0.275,"v":0.09},{"t":1.65,"z":0.325,"v":0.19},{"t":1.65,"z":0.375,"v":0.31},{"t":1.65,"z":0.425,"v":0.4},{"t":1.65,"z":0.475,"v":0.45},{"t":1.65,"z":0.525,"v":0.45},{"t":1.65,"z":0.575,"v":0.4},{"t":1.65,"z":0.625,"v":0.31},{"t":1.65,"z":0.675,"v":0.19},{"t":1.65,"z":0.725,"v":0.09},{"t":1.65,"z":0.775,"v":0.06},{"t":1.65,"z":0.825,"v":0.04},{"t":1.65,"z":0.875,"v":0.03},{"t":1.65,"z":0.925,"v":0.02},{"t":1.65,"z":0.975,"v":0.02},
{"t":1.75,"z":0.025,"v":0.02},{"t":1.75,"z":0.075,"v":0.02},{"t":1.75,"z":0.125,"v":0.03},{"t":1.75,"z":0.175,"v":0.04},{"t":1.75,"z":0.225,"v":0.06},{"t":1.75,"z":0.275,"v":0.1},{"t":1.75,"z":0.325,"v":0.2},{"t":1.75,"z":0.375,"v":0.33},{"t":1.75,"z":0.425,"v":0.42},{"t":1.75,"z":0.475,"v":0.48},{"t":1.75,"z":0.525,"v":0.48},{"t":1.75,"z":0.575,"v":0.42},{"t":1.75,"z":0.625,"v":0.33},{"t":1.75,"z":0.675,"v":0.2},{"t":1.75,"z":0.725,"v":0.1},{"t":1.75,"z":0.775,"v":0.06},{"t":1.75,"z":0.825,"v":0.04},{"t":1.75,"z":0.875,"v":0.03},{"t":1.75,"z":0.925,"v":0.02},{"t":1.75,"z":0.975,"v":0.02},
{"t":1.85,"z":0.025,"v":0.02},{"t":1.85,"z":0.075,"v":0.02},{"t":1.85,"z":0.125,"v":0.03},{"t":1.85,"z":0.175,"v":0.04},{"t":1.85,"z":0.225,"v":0.07},{"t":1.85,"z":0.275,"v":0.11},{"t":1.85,"z":0.325,"v":0.22},{"t":1.85,"z":0.375,"v":0.36},{"t":1.85,"z":0.425,"v":0.46},{"t":1.85,"z":0.475,"v":0.52},{"t":1.85,"z":0.525,"v":0.52},{"t":1.85,"z":0.575,"v":0.46},{"t":1.85,"z":0.625,"v":0.36},{"t":1.85,"z":0.675,"v":0.22},{"t":1.85,"z":0.725,"v":0.11},{"t":1.85,"z":0.775,"v":0.07},{"t":1.85,"z":0.825,"v":0.04},{"t":1.85,"z":0.875,"v":0.03},{"t":1.85,"z":0.925,"v":0.02},{"t":1.85,"z":0.975,"v":0.02},
{"t":1.95,"z":0.025,"v":0.02},{"t":1.95,"z":0.075,"v":0.02},{"t":1.95,"z":0.125,"v":0.03},{"t":1.95,"z":0.175,"v":0.04},{"t":1.95,"z":0.225,"v":0.07},{"t":1.95,"z":0.275,"v":0.1},{"t":1.95,"z":0.325,"v":0.21},{"t":1.95,"z":0.375,"v":0.35},{"t":1.95,"z":0.425,"v":0.44},{"t":1.95,"z":0.475,"v":0.5},{"t":1.95,"z":0.525,"v":0.5},{"t":1.95,"z":0.575,"v":0.44},{"t":1.95,"z":0.625,"v":0.35},{"t":1.95,"z":0.675,"v":0.21},{"t":1.95,"z":0.725,"v":0.1},{"t":1.95,"z":0.775,"v":0.07},{"t":1.95,"z":0.825,"v":0.04},{"t":1.95,"z":0.875,"v":0.03},{"t":1.95,"z":0.925,"v":0.02},{"t":1.95,"z":0.975,"v":0.02}],
"H2":[
{"t":0.1,"z":0.05,"v":0.02},{"t":0.1,"z":0.15,"v":0.04},{"t":0.1,"z":0.25,"v":0.07},{"t":0.1,"z":0.35,"v":0.1},{"t":0.1,"z":0.45,"v":0.12},{"t":0.1,"z":0.55,"v":0.12},{"t":0.1,"z":0.65,"v":0.1},{"t":0.1,"z":0.75,"v":0.07},{"t":0.1,"z":0.85,"v":0.04},{"t":0.1,"z":0.95,"v":0.02},
{"t":0.3,"z":0.05,"v":0.02},{"t":0.3,"z":0.15,"v":0.04},{"t":0.3,"z":0.25,"v":0.08},{"t":0.3,"z":0.35,"v":0.12},{"t":0.3,"z":0.45,"v":0.15},{"t":0.3,"z":0.55,"v":0.15},{"t":0.3,"z":0.65,"v":0.12},{"t":0.3,"z":0.75,"v":0.08},{"t":0.3,"z":0.85,"v":0.04},{"t":0.3,"z":0.95,"v":0.02},
{"t":0.5,"z":0.05,"v":0.02},{"t":0.5,"z":0.15,"v":0.04},{"t":0.5,"z":0.25,"v":0.08},{"t":0.5,"z":0.35,"v":0.12},{"t":0.5,"z":0.45,"v":0.16},{"t":0.5,"z":0.55,"v":0.16},{"t":0.5,"z":0.65,"v":0.12},{"t":0.5,"z":0.75,"v":0.08},{"t":0.5,"z":0.85,"v":0.04},{"t":0.5,"z":0.95,"v":0.02},
{"t":0.7,"z":0.05,"v":0.02},{"t":0.7,"z":0.15,"v":0.04},{"t":0.7,"z":0.25,"v":0.08},{"t":0.7,"z":0.35,"v":0.12},{"t":0.7,"z":0.45,"v":0.16},{"t":0.7,"z":0.55,"v":0.16},{"t":0.7,"z":0.65,"v":0.12},{"t":0.7,"z":0.75,"v":0.08},{"t":0.7,"z":0.85,"v":0.04},{"t":0.7,"z":0.95,"v":0.02},
{"t":0.9,"z":0.05,"v":0.02},{"t":0.9,"z":0.15,"v":0.04},{"t":0.9,"z":0.25,"v":0.08},{"t":0.9,"z":0.35,"v":0.13},{"t":0.9,"z":0.45,"v":0.17},{"t":0.9,"z":0.55,"v":0.17},{"t":0.9,"z":0.65,"v":0.13},{"t":0.9,"z":0.75,"v":0.08},{"t":0.9,"z":0.85,"v":0.04},{"t":0.9,"z":0.95,"v":0.02},
{"t":1.1,"z":0.05,"v":0.02},{"t":1.1,"z":0.15,"v":0.04},{"t":1.1,"z":0.25,"v":0.09},{"t":1.1,"z":0.35,"v":0.14},{"t":1.1,"z":0.45,"v":0.2},{"t":1.1,"z":0.55,"v":0.2},{"t":1.1,"z":0.65,"v":0.14},{"t":1.1,"z":0.75,"v":0.09},{"t":1.1,"z":0.85,"v":0.04},{"t":1.1,"z":0.95,"v":0.02},
{"t":1.3,"z":0.05,"v":0.02},{"t":1.3,"z":0.15,"v":0.04},{"t":1.3,"z":0.25,"v":0.09},{"t":1.3,"z":0.35,"v":0.14},{"t":1.3,"z":0.45,"v":0.19},{"t":1.3,"z":0.55,"v":0.19},{"t":1.3,"z":0.65,"v":0.14},{"t":1.3,"z":0.75,"v":0.09},{"t":1.3,"z":0.85,"v":0.04},{"t":1.3,"z":0.95,"v":0.02},
{"t":1.5,"z":0.05,"v":0.02},{"t":1.5,"z":0.15,"v":0.04},{"t":1.5,"z":0.25,"v":0.09},{"t":1.5,"z":0.35,"v":0.14},{"t":1.5,"z":0.45,"v":0.2},{"t":1.5,"z":0.55,"v":0.2},{"t":1.5,"z":0.65,"v":0.14},{"t":1.5,"z":0.75,"v":0.09},{"t":1.5,"z":0.85,"v":0.04},{"t":1.5,"z":0.95,"v":0.02},
{"t":1.7,"z":0.05,"v":0.02},{"t":1.7,"z":0.15,"v":0.04},{"t":1.7,"z":0.25,"v":0.09},{"t":1.7,"z":0.35,"v":0.14},{"t":1.7,"z":0.45,"v":0.2},{"t":1.7,"z":0.55,"v":0.2},{"t":1.7,"z":0.65,"v":0.14},{"t":1.7,"z":0.75,"v":0.09},{"t":1.7,"z":0.85,"v":0.04},{"t":1.7,"z":0.95,"v":0.02},
{"t":1.9,"z":0.05,"v":0.02},{"t":1.9,"z":0.15,"v":0.04},{"t":1.9,"z":0.25,"v":0.09},{"t":1.9,"z":0.35,"v":0.14},{"t":1.9,"z":0.45,"v":0.19},{"t":1.9,"z":0.55,"v":0.19},{"t":1.9,"z":0.65,"v":0.14},{"t":1.9,"z":0.75,"v":0.09},{"t":1.9,"z":0.85,"v":0.04},{"t":1.9,"z":0.95,"v":0.02}],
"H3":[
{"t":0.05,"z":0.025,"v":0.02},{"t":0.05,"z":0.075,"v":0.02},{"t":0.05,"z":0.125,"v":0.02},{"t":0.05,"z":0.175,"v":0.04},{"t":0.05,"z":0.225,"v":0.08},{"t":0.05,"z":0.275,"v":0.13},{"t":0.05,"z":0.325,"v":0.19},{"t":0.05,"z":0.375,"v":0.22},{"t":0.05,"z":0.425,"v":0.24},{"t":0.05,"z":0.475,"v":0.25},{"t":0.05,"z":0.525,"v":0.25},{"t":0.05,"z":0.575,"v":0.25},{"t":0.05,"z":0.625,"v":0.24},{"t":0.05,"z":0.675,"v":0.2},{"t":0.05,"z":0.725,"v":0.14},{"t":0.05,"z":0.775,"v":0.08},{"t":0.05,"z":0.825,"v":0.03},{"t":0.05,"z":0.875,"v":0.02},{"t":0.05,"z":0.925,"v":0.02},{"t":0.05,"z":0.975,"v":0.02},
{"t":0.15,"z":0.025,"v":0.02},{"t":0.15,"z":0.075,"v":0.02},{"t":0.15,"z":0.125,"v":0.04},{"t":0.15,"z":0.175,"v":0.06},{"t":0.15,"z":0.225,"v":0.13},{"t":0.15,"z":0.275,"v":0.22},{"t":0.15,"z":0.325,"v":0.32},{"t":0.15,"z":0.375,"v":0.37},{"t":0.15,"z":0.425,"v":0.4},{"t":0.15,"z":0.475,"v":0.42},{"t":0.15,"z":0.525,"v":0.42},{"t":0.15,"z":0.575,"v":0.41},{"t":0.15,"z":0.625,"v":0.39},{"t":0.15,"z":0.675,"v":0.34},{"t":0.15,"z":0.725,"v":0.24},{"t":0.15,"z":0.775,"v":0.13},{"t":0.15,"z":0.825,"v":0.05},{"t":0.15,"z":0.875,"v":0.03},{"t":0.15,"z":0.925,"v":0.02},{"t":0.15,"z":0.975,"v":0.02},
{"t":0.25,"z":0.025,"v":0.02},{"t":0.25,"z":0.075,"v":0.02},{"t":0.25,"z":0.125,"v":0.04},{"t":0.25,"z":0.175,"v":0.07},{"t":0.25,"z":0.225,"v":0.14},{"t":0.25,"z":0.275,"v":0.24},{"t":0.25,"z":0.325,"v":0.35},{"t":0.25,"z":0.375,"v":0.4},{"t":0.25,"z":0.425,"v":0.43},{"t":0.25,"z":0.475,"v":0.45},{"t":0.25,"z":0.525,"v":0.45},{"t":0.25,"z":0.575,"v":0.44},{"t":0.25,"z":0.625,"v":0.42},{"t":0.25,"z":0.675,"v":0.36},{"t":0.25,"z":0.725,"v":0.26},{"t":0.25,"z":0.775,"v":0.14},{"t":0.25,"z":0.825,"v":0.06},{"t":0.25,"z":0.875,"v":0.03},{"t":0.25,"z":0.925,"v":0.02},{"t":0.25,"z":0.975,"v":0.02},
{"t":0.35,"z":0.025,"v":0.02},{"t":0.35,"z":0.075,"v":0.02},{"t":0.35,"z":0.125,"v":0.04},{"t":0.35,"z":0.175,"v":0.07},{"t":0.35,"z":0.225,"v":0.14},{"t":0.35,"z":0.275,"v":0.25},{"t":0.35,"z":0.325,"v":0.36},{"t":0.35,"z":0.375,"v":0.42},{"t":0.35,"z":0.425,"v":0.45},{"t":0.35,"z":0.475,"v":0.47},{"t":0.35,"z":0.525,"v":0.47},{"t":0.35,"z":0.575,"v":0.46},{"t":0.35,"z":0.625,"v":0.44},{"t":0.35,"z":0.675,"v":0.38},{"t":0.35,"z":0.725,"v":0.27},{"t":0.35,"z":0.775,"v":0.14},{"t":0.35,"z":0.825,"v":0.06},{"t":0.35,"z":0.875,"v":0.03},{"t":0.35,"z":0.925,"v":0.02},{"t":0.35,"z":0.975,"v":0.02},
{"t":0.45,"z":0.025,"v":0.02},{"t":0.45,"z":0.075,"v":0.02},{"t":0.45,"z":0.125,"v":0.04},{"t":0.45,"z":0.175,"v":0.07},{"t":0.45,"z":0.225,"v":0.14},{"t":0.45,"z":0.275,"v":0.25},{"t":0.45,"z":0.325,"v":0.37},{"t":0.45,"z":0.375,"v":0.43},{"t":0.45,"z":0.425,"v":0.46},{"t":0.45,"z":0.475,"v":0.48},{"t":0.45,"z":0.525,"v":0.48},{"t":0.45,"z":0.575,"v":0.47},{"t":0.45,"z":0.625,"v":0.45},{"t":0.45,"z":0.675,"v":0.39},{"t":0.45,"z":0.725,"v":0.27},{"t":0.45,"z":0.775,"v":0.14},{"t":0.45,"z":0.825,"v":0.06},{"t":0.45,"z":0.875,"v":0.03},{"t":0.45,"z":0.925,"v":0.02},{"t":0.45,"z":0.975,"v":0.02},
{"t":0.55,"z":0.025,"v":0.02},{"t":0.55,"z":0.075,"v":0.02},{"t":0.55,"z":0.125,"v":0.04},{"t":0.55,"z":0.175,"v":0.07},{"t":0.55,"z":0.225,"v":0.14},{"t":0.55,"z":0.275,"v":0.25},{"t":0.55,"z":0.325,"v":0.36},{"t":0.55,"z":0.375,"v":0.42},{"t":0.55,"z":0.425,"v":0.45},{"t":0.55,"z":0.475,"v":0.47},{"t":0.55,"z":0.525,"v":0.47},{"t":0.55,"z":0.575,"v":0.46},{"t":0.55,"z":0.625,"v":0.44},{"t":0.55,"z":0.675,"v":0.38},{"t":0.55,"z":0.725,"v":0.27},{"t":0.55,"z":0.775,"v":0.14},{"t":0.55,"z":0.825,"v":0.06},{"t":0.55,"z":0.875,"v":0.03},{"t":0.55,"z":0.925,"v":0.02},{"t":0.55,"z":0.975,"v":0.02},
{"t":0.65,"z":0.025,"v":0.02},{"t":0.65,"z":0.075,"v":0.02},{"t":0.65,"z":0.125,"v":0.04},{"t":0.65,"z":0.175,"v":0.07},{"t":0.65,"z":0.225,"v":0.14},{"t":0.65,"z":0.275,"v":0.25},{"t":0.65,"z":0.325,"v":0.37},{"t":0.65,"z":0.375,"v":0.43},{"t":0.65,"z":0.425,"v":0.46},{"t":0.65,"z":0.475,"v":0.48},{"t":0.65,"z":0.525,"v":0.48},{"t":0.65,"z":0.575,"v":0.47},{"t":0.65,"z":0.625,"v":0.45},{"t":0.65,"z":0.675,"v":0.39},{"t":0.65,"z":0.725,"v":0.27},{"t":0.65,"z":0.775,"v":0.14},{"t":0.65,"z":0.825,"v":0.06},{"t":0.65,"z":0.875,"v":0.03},{"t":0.65,"z":0.925,"v":0.02},{"t":0.65,"z":0.975,"v":0.02},
{"t":0.75,"z":0.025,"v":0.02},{"t":0.75,"z":0.075,"v":0.02},{"t":0.75,"z":0.125,"v":0.04},{"t":0.75,"z":0.175,"v":0.07},{"t":0.75,"z":0.225,"v":0.14},{"t":0.75,"z":0.275,"v":0.25},{"t":0.75,"z":0.325,"v":0.36},{"t":0.75,"z":0.375,"v":0.42},{"t":0.75,"z":0.425,"v":0.45},{"t":0.75,"z":0.475,"v":0.47},{"t":0.75,"z":0.525,"v":0.47},{"t":0.75,"z":0.575,"v":0.46},{"t":0.75,"z":0.625,"v":0.44},{"t":0.75,"z":0.675,"v":0.38},{"t":0.75,"z":0.725,"v":0.27},{"t":0.75,"z":0.775,"v":0.14},{"t":0.75,"z":0.825,"v":0.06},{"t":0.75,"z":0.875,"v":0.03},{"t":0.75,"z":0.925,"v":0.02},{"t":0.75,"z":0.975,"v":0.02},
{"t":0.85,"z":0.025,"v":0.02},{"t":0.85,"z":0.075,"v":0.02},{"t":0.85,"z":0.125,"v":0.04},{"t":0.85,"z":0.175,"v":0.07},{"t":0.85,"z":0.225,"v":0.14},{"t":0.85,"z":0.275,"v":0.24},{"t":0.85,"z":0.325,"v":0.35},{"t":0.85,"z":0.375,"v":0.41},{"t":0.85,"z":0.425,"v":0.44},{"t":0.85,"z":0.475,"v":0.46},{"t":0.85,"z":0.525,"v":0.46},{"t":0.85,"z":0.575,"v":0.45},{"t":0.85,"z":0.625,"v":0.43},{"t":0.85,"z":0.675,"v":0.37},{"t":0.85,"z":0.725,"v":0.26},{"t":0.85,"z":0.775,"v":0.14},{"t":0.85,"z":0.825,"v":0.06},{"t":0.85,"z":0.875,"v":0.03},{"t":0.85,"z":0.925,"v":0.02},{"t":0.85,"z":0.975,"v":0.02},
{"t":0.95,"z":0.025,"v":0.02},{"t":0.95,"z":0.075,"v":0.02},{"t":0.95,"z":0.125,"v":0.04},{"t":0.95,"z":0.175,"v":0.07},{"t":0.95,"z":0.225,"v":0.14},{"t":0.95,"z":0.275,"v":0.25},{"t":0.95,"z":0.325,"v":0.36},{"t":0.95,"z":0.375,"v":0.42},{"t":0.95,"z":0.425,"v":0.45},{"t":0.95,"z":0.475,"v":0.47},{"t":0.95,"z":0.525,"v":0.47},{"t":0.95,"z":0.575,"v":0.46},{"t":0.95,"z":0.625,"v":0.44},{"t":0.95,"z":0.675,"v":0.38},{"t":0.95,"z":0.725,"v":0.27},{"t":0.95,"z":0.775,"v":0.14},{"t":0.95,"z":0.825,"v":0.06},{"t":0.95,"z":0.875,"v":0.03},{"t":0.95,"z":0.925,"v":0.02},{"t":0.95,"z":0.975,"v":0.02},
{"t":1.05,"z":0.025,"v":0.02},{"t":1.05,"z":0.075,"v":0.02},{"t":1.05,"z":0.125,"v":0.04},{"t":1.05,"z":0.175,"v":0.07},{"t":1.05,"z":0.225,"v":0.14},{"t":1.05,"z":0.275,"v":0.25},{"t":1.05,"z":0.325,"v":0.36},{"t":1.05,"z":0.375,"v":0.42},{"t":1.05,"z":0.425,"v":0.45},{"t":1.05,"z":0.475,"v":0.47},{"t":1.05,"z":0.525,"v":0.47},{"t":1.05,"z":0.575,"v":0.46},{"t":1.05,"z":0.625,"v":0.44},{"t":1.05,"z":0.675,"v":0.38},{"t":1.05,"z":0.725,"v":0.27},{"t":1.05,"z":0.775,"v":0.14},{"t":1.05,"z":0.825,"v":0.06},{"t":1.05,"z":0.875,"v":0.03},{"t":1.05,"z":0.925,"v":0.02},{"t":1.05,"z":0.975,"v":0.02},
{"t":1.15,"z":0.025,"v":0.02},{"t":1.15,"z":0.075,"v":0.02},{"t":1.15,"z":0.125,"v":0.04},{"t":1.15,"z":0.175,"v":0.07},{"t":1.15,"z":0.225,"v":0.14},{"t":1.15,"z":0.275,"v":0.24},{"t":1.15,"z":0.325,"v":0.35},{"t":1.15,"z":0.375,"v":0.41},{"t":1.15,"z":0.425,"v":0.44},{"t":1.15,"z":0.475,"v":0.46},{"t":1.15,"z":0.525,"v":0.46},{"t":1.15,"z":0.575,"v":0.45},{"t":1.15,"z":0.625,"v":0.43},{"t":1.15,"z":0.675,"v":0.37},{"t":1.15,"z":0.725,"v":0.26},{"t":1.15,"z":0.775,"v":0.14},{"t":1.15,"z":0.825,"v":0.06},{"t":1.15,"z":0.875,"v":0.03},{"t":1.15,"z":0.925,"v":0.02},{"t":1.15,"z":0.975,"v":0.02},
{"t":1.25,"z":0.025,"v":0.02},{"t":1.25,"z":0.075,"v":0.02},{"t":1.25,"z":0.125,"v":0.04},{"t":1.25,"z":0.175,"v":0.07},{"t":1.25,"z":0.225,"v":0.14},{"t":1.25,"z":0.275,"v":0.24},{"t":1.25,"z":0.325,"v":0.35},{"t":1.25,"z":0.375,"v":0.41},{"t":1.25,"z":0.425,"v":0.44},{"t":1.25,"z":0.475,"v":0.46},{"t":1.25,"z":0.525,"v":0.46},{"t":1.25,"z":0.575,"v":0.45},{"t":1.25,"z":0.625,"v":0.43},{"t":1.25,"z":0.675,"v":0.37},{"t":1.25,"z":0.725,"v":0.26},{"t":1.25,"z":0.775,"v":0.14},{"t":1.25,"z":0.825,"v":0.06},{"t":1.25,"z":0.875,"v":0.03},{"t":1.25,"z":0.925,"v":0.02},{"t":1.25,"z":0.975,"v":0.02},
{"t":1.35,"z":0.025,"v":0.02},{"t":1.35,"z":0.075,"v":0.02},{"t":1.35,"z":0.125,"v":0.04},{"t":1.35,"z":0.175,"v":0.07},{"t":1.35,"z":0.225,"v":0.14},{"t":1.35,"z":0.275,"v":0.24},{"t":1.35,"z":0.325,"v":0.35},{"t":1.35,"z":0.375,"v":0.4},{"t":1.35,"z":0.425,"v":0.43},{"t":1.35,"z":0.475,"v":0.45},{"t":1.35,"z":0.525,"v":0.45},{"t":1.35,"z":0.575,"v":0.44},{"t":1.35,"z":0.625,"v":0.42},{"t":1.35,"z":0.675,"v":0.36},{"t":1.35,"z":0.725,"v":0.26},{"t":1.35,"z":0.775,"v":0.14},{"t":1.35,"z":0.825,"v":0.06},{"t":1.35,"z":0.875,"v":0.03},{"t":1.35,"z":0.925,"v":0.02},{"t":1.35,"z":0.975,"v":0.02},
{"t":1.45,"z":0.025,"v":0.02},{"t":1.45,"z":0.075,"v":0.02},{"t":1.45,"z":0.125,"v":0.04},{"t":1.45,"z":0.175,"v":0.07},{"t":1.45,"z":0.225,"v":0.14},{"t":1.45,"z":0.275,"v":0.24},{"t":1.45,"z":0.325,"v":0.35},{"t":1.45,"z":0.375,"v":0.41},{"t":1.45,"z":0.425,"v":0.44},{"t":1.45,"z":0.475,"v":0.46},{"t":1.45,"z":0.525,"v":0.46},{"t":1.45,"z":0.575,"v":0.45},{"t":1.45,"z":0.625,"v":0.43},{"t":1.45,"z":0.675,"v":0.37},{"t":1.45,"z":0.725,"v":0.26},{"t":1.45,"z":0.775,"v":0.14},{"t":1.45,"z":0.825,"v":0.06},{"t":1.45,"z":0.875,"v":0.03},{"t":1.45,"z":0.925,"v":0.02},{"t":1.45,"z":0.975,"v":0.02},
{"t":1.55,"z":0.025,"v":0.02},{"t":1.55,"z":0.075,"v":0.02},{"t":1.55,"z":0.125,"v":0.04},{"t":1.55,"z":0.175,"v":0.07},{"t":1.55,"z":0.225,"v":0.14},{"t":1.55,"z":0.275,"v":0.24},{"t":1.55,"z":0.325,"v":0.35},{"t":1.55,"z":0.375,"v":0.4},{"t":1.55,"z":0.425,"v":0.43},{"t":1.55,"z":0.475,"v":0.45},{"t":1.55,"z":0.525,"v":0.45},{"t":1.55,"z":0.575,"v":0.44},{"t":1.55,"z":0.625,"v":0.42},{"t":1.55,"z":0.675,"v":0.36},{"t":1.55,"z":0.725,"v":0.26},{"t":1.55,"z":0.775,"v":0.14},{"t":1.55,"z":0.825,"v":0.06},{"t":1.55,"z":0.875,"v":0.03},{"t":1.55,"z":0.925,"v":0.02},{"t":1.55,"z":0.975,"v":0.02},
{"t":1.65,"z":0.025,"v":0.02},{"t":1.65,"z":0.075,"v":0.02},{"t":1.65,"z":0.125,"v":0.04},{"t":1.65,"z":0.175,"v":0.07},{"t":1.65,"z":0.225,"v":0.14},{"t":1.65,"z":0.275,"v":0.24},{"t":1.65,"z":0.325,"v":0.35},{"t":1.65,"z":0.375,"v":0.4},{"t":1.65,"z":0.425,"v":0.43},{"t":1.65,"z":0.475,"v":0.45},{"t":1.65,"z":0.525,"v":0.45},{"t":1.65,"z":0.575,"v":0.44},{"t":1.65,"z":0.625,"v":0.42},{"t":1.65,"z":0.675,"v":0.36},{"t":1.65,"z":0.725,"v":0.26},{"t":1.65,"z":0.775,"v":0.14},{"t":1.65,"z":0.825,"v":0.06},{"t":1.65,"z":0.875,"v":0.03},{"t":1.65,"z":0.925,"v":0.02},{"t":1.65,"z":0.975,"v":0.02},
{"t":1.75,"z":0.025,"v":0.02},{"t":1.75,"z":0.075,"v":0.02},{"t":1.75,"z":0.125,"v":0.04},{"t":1.75,"z":0.175,"v":0.08},{"t":1.75,"z":0.225,"v":0.16},{"t":1.75,"z":0.275,"v":0.28},{"t":1.75,"z":0.325,"v":0.4},{"t":1.75,"z":0.375,"v":0.46},{"t":1.75,"z":0.425,"v":0.5},{"t":1.75,"z":0.475,"v":0.52},{"t":1.75,"z":0.525,"v":0.52},{"t":1.75,"z":0.575,"v":0.51},{"t":1.75,"z":0.625,"v":0.49},{"t":1.75,"z":0.675,"v":0.42},{"t":1.75,"z":0.725,"v":0.3},{"t":1.75,"z":0.775,"v":0.16},{"t":1.75,"z":0.825,"v":0.07},{"t":1.75,"z":0.875,"v":0.03},{"t":1.75,"z":0.925,"v":0.02},{"t":1.75,"z":0.975,"v":0.02},
{"t":1.85,"z":0.025,"v":0.02},{"t":1.85,"z":0.075,"v":0.02},{"t":1.85,"z":0.125,"v":0.05},{"t":1.85,"z":0.175,"v":0.08},{"t":1.85,"z":0.225,"v":0.16},{"t":1.85,"z":0.275,"v":0.28},{"t":1.85,"z":0.325,"v":0.41},{"t":1.85,"z":0.375,"v":0.47},{"t":1.85,"z":0.425,"v":0.51},{"t":1.85,"z":0.475,"v":0.53},{"t":1.85,"z":0.525,"v":0.53},{"t":1.85,"z":0.575,"v":0.52},{"t":1.85,"z":0.625,"v":0.5},{"t":1.85,"z":0.675,"v":0.43},{"t":1.85,"z":0.725,"v":0.3},{"t":1.85,"z":0.775,"v":0.16},{"t":1.85,"z":0.825,"v":0.07},{"t":1.85,"z":0.875,"v":0.03},{"t":1.85,"z":0.925,"v":0.02},{"t":1.85,"z":0.975,"v":0.02},
{"t":1.95,"z":0.025,"v":0.02},{"t":1.95,"z":0.075,"v":0.02},{"t":1.95,"z":0.125,"v":0.04},{"t":1.95,"z":0.175,"v":0.07},{"t":1.95,"z":0.225,"v":0.14},{"t":1.95,"z":0.275,"v":0.25},{"t":1.95,"z":0.325,"v":0.37},{"t":1.95,"z":0.375,"v":0.43},{"t":1.95,"z":0.425,"v":0.46},{"t":1.95,"z":0.475,"v":0.48},{"t":1.95,"z":0.525,"v":0.48},{"t":1.95,"z":0.575,"v":0.47},{"t":1.95,"z":0.625,"v":0.45},{"t":1.95,"z":0.675,"v":0.39},{"t":1.95,"z":0.725,"v":0.27},{"t":1.95,"z":0.775,"v":0.14},{"t":1.95,"z":0.825,"v":0.06},{"t":1.95,"z":0.875,"v":0.03},{"t":1.95,"z":0.925,"v":0.02},{"t":1.95,"z":0.975,"v":0.02}],
"CB":[{"v":0},{"v":0.02},{"v":0.04},{"v":0.06},{"v":0.08},{"v":0.1},{"v":0.12},{"v":0.14},{"v":0.16},{"v":0.18},{"v":0.2},{"v":0.22},{"v":0.24},{"v":0.26},{"v":0.28},{"v":0.3},{"v":0.32},{"v":0.34},{"v":0.36},{"v":0.38},{"v":0.4},{"v":0.42},{"v":0.44},{"v":0.46},{"v":0.48},{"v":0.5},{"v":0.52},{"v":0.54},{"v":0.56},{"v":0.58},{"v":0.6},{"v":0.62},{"v":0.64},{"v":0.66},{"v":0.68},{"v":0.7},{"v":0.72},{"v":0.74},{"v":0.76},{"v":0.78},{"v":0.8},{"v":0.82},{"v":0.84},{"v":0.86},{"v":0.88},{"v":0.9},{"v":0.92},{"v":0.94},{"v":0.96},{"v":0.98}]
},
"concat":[
{"width":314,"height":121,"data":{"name":"A1"},
 "title":{"text":"(a)","anchor":"start","frame":"bounds","offset":0,"dy":36},
 "layer":[
  {"transform":[{"filter":"isValid(datum.hi)"}],"mark":{"type":"area","color":"#c0c0c0"},
   "encoding":{"x":{"field":"t","type":"quantitative","scale":{"domain":[0,2]},"axis":{"values":[0,0.5,1,1.5,2],"labels":false,"title":null}},
    "y":{"field":"hi","type":"quantitative","scale":{"domain":[0,1]},"axis":{"values":[0,0.5,1],"format":".1f","title":"Barone"}}}},
  {"transform":[{"filter":"isValid(datum.m)"}],"mark":{"type":"line","color":"black","strokeWidth":2.8},
   "encoding":{"x":{"field":"t","type":"quantitative","axis":{"orient":"top","labels":false,"ticks":false,"title":"CRPSᵃ,ᵒ(t)","titlePadding":16.5}},
    "y":{"field":"m","type":"quantitative","axis":{"values":[0,0.5,1],"format":".1f","title":"Barone"}}}}
 ],
 "resolve":{"axis":{"x":"independent"}}},
{"width":314,"height":121,"data":{"name":"A2"},
 "layer":[
  {"transform":[{"filter":"isValid(datum.hi)"}],"mark":{"type":"area","color":"#c0c0c0"},
   "encoding":{"x":{"field":"t","type":"quantitative","scale":{"domain":[0,2]},"axis":{"values":[0,0.5,1,1.5,2],"labels":false,"title":null}},
    "y":{"field":"hi","type":"quantitative","scale":{"domain":[0,1]},"axis":{"values":[0,0.5,1],"labels":false,"title":null}}}},
  {"transform":[{"filter":"isValid(datum.m)"}],"mark":{"type":"line","color":"black","strokeWidth":2.8},
   "encoding":{"x":{"field":"t","type":"quantitative","axis":{"orient":"top","labels":false,"ticks":false,"title":"RMSEᵇ(t)","titlePadding":16.5}},
    "y":{"field":"m","type":"quantitative","axis":{"values":[0,0.5,1],"labels":false,"title":null}}}}
 ],
 "resolve":{"axis":{"x":"independent"}}},
{"width":314,"height":121,"data":{"name":"H1"},
 "layer":[
  {"mark":{"type":"rect","strokeWidth":0.8},
   "encoding":{"x":{"field":"t","type":"quantitative","bin":{"step":0.1,"extent":[0,2]},"scale":{"domain":[0,2]},"axis":{"values":[0,0.5,1,1.5,2],"labels":false,"title":null}},
    "y":{"field":"z","type":"quantitative","bin":{"step":0.05,"extent":[0,1]},"scale":{"domain":[0,1]},"axis":{"orient":"right","values":[0,0.5,1],"format":".1f","title":"z/d","titleAngle":270,"titleBaseline":"top","titleFontStyle":"italic","titlePadding":16}},
    "color":{"field":"v","type":"quantitative","scale":{"domain":[0,0.125,0.25,0.375,0.5,0.625,0.75,0.875,1],"range":["#fff7fb","#ece2f0","#d0d1e6","#a6bddb","#67a9cf","#3690c0","#02818a","#016c59","#014636"]},"legend":null},
    "stroke":{"field":"v","type":"quantitative","scale":{"domain":[0,0.125,0.25,0.375,0.5,0.625,0.75,0.875,1],"range":["#fff7fb","#ece2f0","#d0d1e6","#a6bddb","#67a9cf","#3690c0","#02818a","#016c59","#014636"]},"legend":null}}},
  {"mark":{"type":"point","opacity":0},
   "encoding":{"x":{"datum":1,"type":"quantitative","axis":{"orient":"top","labels":false,"ticks":false,"title":"SPRDᵇᵤ(t,z)","titlePadding":16.5}}}}
 ],
 "resolve":{"axis":{"x":"independent"}}},
{"width":100,"height":121,"view":{"stroke":null},
 "layer":[
  {"data":{"name":"CB"},"mark":{"type":"rect","strokeWidth":0.8},
   "encoding":{"x":{"datum":0,"type":"quantitative","scale":{"domain":[0,1],"range":[79,100]},"axis":null},
    "x2":{"datum":1},
    "y":{"field":"v","type":"quantitative","bin":{"step":0.02,"extent":[0,1]},"scale":{"domain":[0,1],"range":[451,0]},"axis":{"orient":"right","values":[0,0.5,1],"format":".1f","labelPadding":10,"title":"SPRDᵇᵤ(t,z)","titleAngle":270,"titleBaseline":"top","titlePadding":18}},
    "color":{"field":"v","type":"quantitative","scale":{"domain":[0,0.125,0.25,0.375,0.5,0.625,0.75,0.875,1],"range":["#fff7fb","#ece2f0","#d0d1e6","#a6bddb","#67a9cf","#3690c0","#02818a","#016c59","#014636"]},"legend":null},
    "stroke":{"field":"v","type":"quantitative","scale":{"domain":[0,0.125,0.25,0.375,0.5,0.625,0.75,0.875,1],"range":["#fff7fb","#ece2f0","#d0d1e6","#a6bddb","#67a9cf","#3690c0","#02818a","#016c59","#014636"]},"legend":null}}},
  {"data":{"values":[{}]},"mark":{"type":"rect","filled":false,"color":"black","strokeWidth":2.5},
   "encoding":{"x":{"datum":0,"type":"quantitative","axis":null},"x2":{"datum":1},
    "y":{"datum":0,"type":"quantitative","axis":{"orient":"right","values":[0,0.5,1],"format":".1f","labelPadding":10,"title":"SPRDᵇᵤ(t,z)","titleAngle":270,"titleBaseline":"top","titlePadding":18}},"y2":{"datum":1}}}
 ]},
{"width":314,"height":121,"data":{"name":"B1"},
 "title":{"text":"(b)","anchor":"start","frame":"bounds","offset":0,"dy":7},
 "layer":[
  {"transform":[{"filter":"isValid(datum.hi)"}],"mark":{"type":"area","color":"#c0c0c0"},
   "encoding":{"x":{"field":"t","type":"quantitative","scale":{"domain":[0,2]},"axis":{"values":[0,0.5,1,1.5,2],"labels":false,"title":null}},
    "y":{"field":"hi","type":"quantitative","scale":{"domain":[0,1]},"axis":{"values":[0,0.5,1],"format":".1f","title":"BR"}}}},
  {"transform":[{"filter":"isValid(datum.m)"}],"mark":{"type":"line","color":"black","strokeWidth":2.8},
   "encoding":{"x":{"field":"t","type":"quantitative"},
    "y":{"field":"m","type":"quantitative","axis":{"values":[0,0.5,1],"format":".1f","title":"BR"}}}}
 ]},
{"width":314,"height":121,"data":{"name":"B2"},
 "layer":[
  {"transform":[{"filter":"isValid(datum.hi)"}],"mark":{"type":"area","color":"#c0c0c0"},
   "encoding":{"x":{"field":"t","type":"quantitative","scale":{"domain":[0,2]},"axis":{"values":[0,0.5,1,1.5,2],"labels":false,"title":null}},
    "y":{"field":"hi","type":"quantitative","scale":{"domain":[0,1]},"axis":{"values":[0,0.5,1],"labels":false,"title":null}},
    "y2":{"field":"lo"}}},
  {"transform":[{"filter":"isValid(datum.m)"}],"mark":{"type":"line","color":"black","strokeWidth":2.8},
   "encoding":{"x":{"field":"t","type":"quantitative"},
    "y":{"field":"m","type":"quantitative","axis":{"values":[0,0.5,1],"labels":false,"title":null}}}}
 ]},
{"width":314,"height":121,"data":{"name":"H2"},
 "mark":{"type":"rect","strokeWidth":0.8},
 "encoding":{"x":{"field":"t","type":"quantitative","bin":{"step":0.2,"extent":[0,2]},"scale":{"domain":[0,2]},"axis":{"values":[0,0.5,1,1.5,2],"labels":false,"title":null}},
  "y":{"field":"z","type":"quantitative","bin":{"step":0.1,"extent":[0,1]},"scale":{"domain":[0,1]},"axis":{"orient":"right","values":[0,0.5,1],"format":".1f","title":"z/d","titleAngle":270,"titleBaseline":"top","titleFontStyle":"italic","titlePadding":16}},
  "color":{"field":"v","type":"quantitative","scale":{"domain":[0,0.125,0.25,0.375,0.5,0.625,0.75,0.875,1],"range":["#fff7fb","#ece2f0","#d0d1e6","#a6bddb","#67a9cf","#3690c0","#02818a","#016c59","#014636"]},"legend":null},
  "stroke":{"field":"v","type":"quantitative","scale":{"domain":[0,0.125,0.25,0.375,0.5,0.625,0.75,0.875,1],"range":["#fff7fb","#ece2f0","#d0d1e6","#a6bddb","#67a9cf","#3690c0","#02818a","#016c59","#014636"]},"legend":null}}},
{"width":100,"height":121,"view":{"stroke":null},"data":{"values":[{}]},"mark":{"type":"point","opacity":0}},
{"width":314,"height":121,"data":{"name":"C1"},
 "title":{"text":"(c)","anchor":"start","frame":"bounds","offset":0,"dy":7},
 "layer":[
  {"transform":[{"filter":"isValid(datum.hi)"}],"mark":{"type":"area","color":"#c0c0c0"},
   "encoding":{"x":{"field":"t","type":"quantitative","scale":{"domain":[0,2]},"axis":{"values":[0,0.5,1,1.5,2],"format":".1f","title":"t [s]"}},
    "y":{"field":"hi","type":"quantitative","scale":{"domain":[0,1]},"axis":{"values":[0,0.5,1],"format":".1f","title":"GP"}}}},
  {"transform":[{"filter":"isValid(datum.m)"}],"mark":{"type":"line","color":"black","strokeWidth":2.8},
   "encoding":{"x":{"field":"t","type":"quantitative"},
    "y":{"field":"m","type":"quantitative","axis":{"values":[0,0.5,1],"format":".1f","title":"GP"}}}}
 ]},
{"width":314,"height":121,"data":{"name":"C2"},
 "layer":[
  {"transform":[{"filter":"isValid(datum.hi)"}],"mark":{"type":"area","color":"#c0c0c0"},
   "encoding":{"x":{"field":"t","type":"quantitative","scale":{"domain":[0,2]},"axis":{"values":[0,0.5,1,1.5,2],"format":".1f","title":"t [s]"}},
    "y":{"field":"hi","type":"quantitative","scale":{"domain":[0,1]},"axis":{"values":[0,0.5,1],"labels":false,"title":null}}}},
  {"transform":[{"filter":"isValid(datum.m)"}],"mark":{"type":"line","color":"black","strokeWidth":2.8},
   "encoding":{"x":{"field":"t","type":"quantitative"},
    "y":{"field":"m","type":"quantitative","axis":{"values":[0,0.5,1],"labels":false,"title":null}}}}
 ]},
{"width":314,"height":121,"data":{"name":"H3"},
 "mark":{"type":"rect","strokeWidth":0.8},
 "encoding":{"x":{"field":"t","type":"quantitative","bin":{"step":0.1,"extent":[0,2]},"scale":{"domain":[0,2]},"axis":{"values":[0,0.5,1,1.5,2],"format":".1f","title":"t [s]"}},
  "y":{"field":"z","type":"quantitative","bin":{"step":0.05,"extent":[0,1]},"scale":{"domain":[0,1]},"axis":{"orient":"right","values":[0,0.5,1],"format":".1f","title":"z/d","titleAngle":270,"titleBaseline":"top","titleFontStyle":"italic","titlePadding":16}},
  "color":{"field":"v","type":"quantitative","scale":{"domain":[0,0.125,0.25,0.375,0.5,0.625,0.75,0.875,1],"range":["#fff7fb","#ece2f0","#d0d1e6","#a6bddb","#67a9cf","#3690c0","#02818a","#016c59","#014636"]},"legend":null},
  "stroke":{"field":"v","type":"quantitative","scale":{"domain":[0,0.125,0.25,0.375,0.5,0.625,0.75,0.875,1],"range":["#fff7fb","#ece2f0","#d0d1e6","#a6bddb","#67a9cf","#3690c0","#02818a","#016c59","#014636"]},"legend":null}}}
],
"config":{
 "font":"Liberation Serif",
 "view":{"stroke":"black","strokeWidth":2.5},
 "axis":{"labelFont":"Liberation Serif","labelFontSize":27,"labelColor":"black","titleFont":"Liberation Serif","titleFontSize":27,"titleFontWeight":"normal","titleColor":"black","tickColor":"black","tickWidth":2.5,"tickSize":16,"domain":false,"grid":false,"labelPadding":12,"labelFlush":false,"labelOverlap":false},
 "axisX":{"labelPadding":7,"titlePadding":9.5},
 "axisY":{"titlePadding":12},
 "title":{"font":"Liberation Serif","fontSize":27,"fontWeight":"normal","color":"black"}
}
}
